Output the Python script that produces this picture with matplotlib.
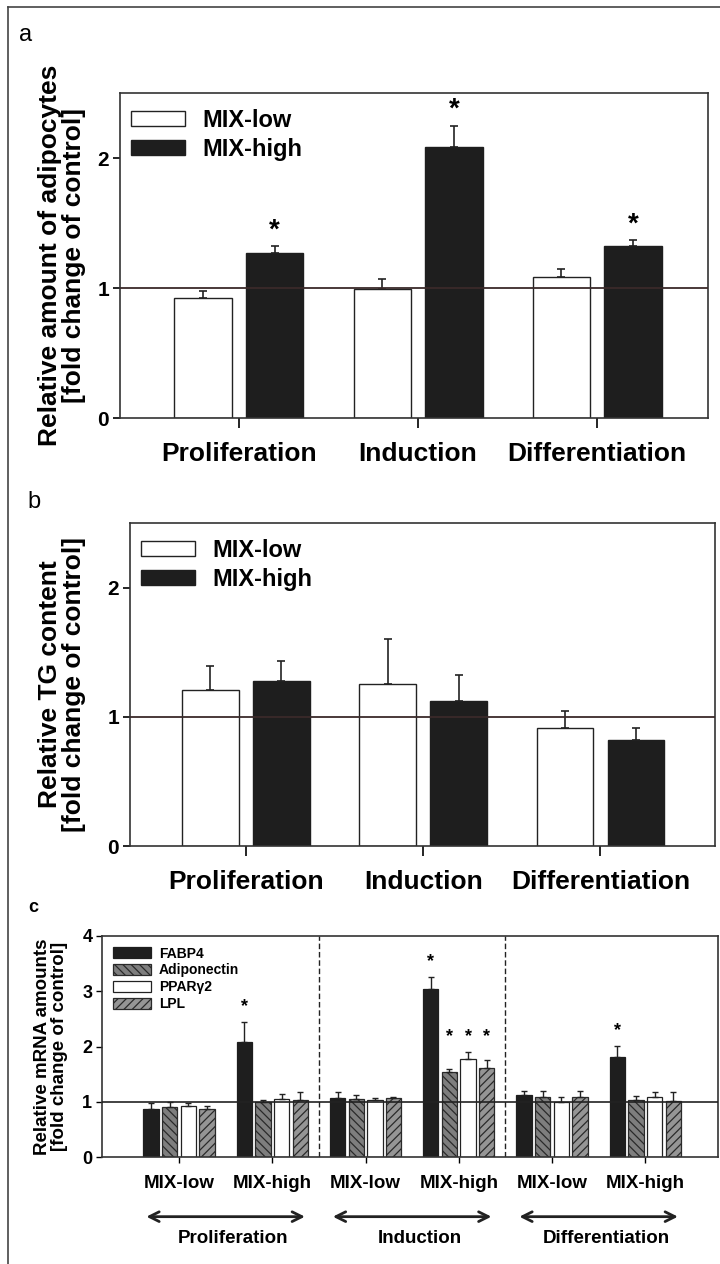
import numpy as np
import matplotlib.pyplot as plt
from matplotlib.lines import Line2D

plt.rcParams['font.family'] = ['Liberation Sans', 'DejaVu Sans']
plt.rcParams['font.weight'] = 'bold'
plt.rcParams['hatch.linewidth'] = 0.9

# --- data ---
phases = ['Proliferation', 'Induction', 'Differentiation']
series_ab = ['MIX-low', 'MIX-high']

# a: relative amount of adipocytes
adipo_low = [0.92, 0.99, 1.085]
adipo_low_err = [0.06, 0.08, 0.06]
adipo_high = [1.27, 2.085, 1.32]
adipo_high_err = [0.055, 0.165, 0.05]
adipo_high_sig = [True, True, True]

# b: relative TG content
tg_low = [1.21, 1.255, 0.915]
tg_low_err = [0.185, 0.35, 0.13]
tg_high = [1.28, 1.12, 0.82]
tg_high_err = [0.15, 0.20, 0.095]

# c: relative mRNA amounts
genes = ['FABP4', 'Adiponectin', 'PPAR\u03b32', 'LPL']
subgroups = ['MIX-low', 'MIX-high'] * 3
fabp4 = [0.87, 2.085, 1.07, 3.04, 1.115, 1.815]
fabp4_err = [0.10, 0.365, 0.105, 0.21, 0.085, 0.195]
adipoq = [0.91, 0.99, 1.055, 1.53, 1.085, 1.03]
adipoq_err = [0.08, 0.05, 0.075, 0.07, 0.115, 0.07]
pparg2 = [0.92, 1.055, 1.04, 1.78, 1.0, 1.08]
pparg2_err = [0.05, 0.085, 0.03, 0.12, 0.09, 0.10]
lpl = [0.86, 1.04, 1.06, 1.615, 1.08, 1.02]
lpl_err = [0.06, 0.14, 0.02, 0.135, 0.12, 0.16]
sig_c = [(1, 0), (3, 0), (3, 1), (3, 2), (3, 3), (5, 0)]  # (subgroup, gene)

W, H = 720, 1264
fig = plt.figure(figsize=(W / 100, H / 100), dpi=100)


def px_axes(left, top, right, bottom):
    return fig.add_axes([left / W, 1 - bottom / H, (right - left) / W, (bottom - top) / H])


def style_box(ax):
    for s in ax.spines.values():
        s.set_linewidth(1.2)
        s.set_color('#333333')


def panel_ab(ax, low, low_err, high, high_err, xlim, sig=None):
    x = np.arange(len(phases))
    ax.bar(x - 0.2, low, 0.32, color='white', edgecolor='#222222', linewidth=1, label=series_ab[0], zorder=2)
    ax.bar(x + 0.2, high, 0.32, color='#1e1e1e', edgecolor='#1e1e1e', linewidth=1, label=series_ab[1], zorder=2)
    ax.errorbar(x - 0.2, low, yerr=[np.zeros(3), low_err], fmt='none', ecolor='#222222',
                elinewidth=1.2, capsize=3.2, capthick=1.2, zorder=3)
    ax.errorbar(x + 0.2, high, yerr=[np.zeros(3), high_err], fmt='none', ecolor='#222222',
                elinewidth=1.2, capsize=3.2, capthick=1.2, zorder=3)
    ax.axhline(1, color='#3a2a2a', linewidth=1.3, zorder=4)
    if sig is not None:
        for i, s in enumerate(sig):
            if s:
                ax.text(x[i] + 0.2, high[i] + high_err[i] + 0.12, '*', ha='center', va='center', fontsize=20)
    ax.set_xlim(*xlim)
    ax.set_ylim(0, 2.5)
    ax.set_yticks([0, 1, 2])
    ax.set_xticks(x, phases, fontsize=19)
    ax.tick_params(axis='x', length=7, width=1.2, pad=10)
    ax.tick_params(axis='y', labelsize=15, length=5, width=1.2, pad=3)
    ax.legend(loc='upper left', bbox_to_anchor=(0.018, 0.95), frameon=False, fontsize=17,
              handlelength=2.3, handleheight=0.6, handletextpad=0.75, labelspacing=0.25,
              borderpad=0, borderaxespad=0)
    style_box(ax)


# panel a
ax_a = px_axes(120, 93, 708, 418)
panel_ab(ax_a, adipo_low, adipo_low_err, adipo_high, adipo_high_err, (-0.663, 2.618), adipo_high_sig)
ax_a.text(-0.098, 0.5, 'Relative amount of adipocytes\n[fold change of control]', transform=ax_a.transAxes,
          rotation=90, ha='center', va='center', fontsize=19, linespacing=1.0)

# panel b
ax_b = px_axes(130, 523, 715, 846)
panel_ab(ax_b, tg_low, tg_low_err, tg_high, tg_high_err, (-0.654, 2.646))
ax_b.text(-0.117, 0.5, 'Relative TG content\n[fold change of control]', transform=ax_b.transAxes,
          rotation=90, ha='center', va='center', fontsize=19, linespacing=1.0)

# panel c
ax_c = px_axes(102, 936, 718, 1157)
xs = np.arange(len(subgroups))
offsets = [-0.3, -0.1, 0.1, 0.3]
vals = [fabp4, adipoq, pparg2, lpl]
errs = [fabp4_err, adipoq_err, pparg2_err, lpl_err]
faces = ['#1e1e1e', '#7e7e7e', 'white', '#959595']
edges = ['#1e1e1e', '#2a2a2a', '#222222', '#2a2a2a']
hatches = [None, '\\\\\\\\', None, '////']
for g in range(4):
    ax_c.bar(xs + offsets[g], vals[g], 0.165, color=faces[g], edgecolor=edges[g], hatch=hatches[g],
             linewidth=0.9, label=genes[g], zorder=2)
    ax_c.errorbar(xs + offsets[g], vals[g], yerr=[np.zeros(len(xs)), errs[g]], fmt='none',
                  ecolor='#222222', elinewidth=1, capsize=2.2, capthick=1, zorder=3)
ax_c.axhline(1, color='#222222', linewidth=1.2, zorder=4)
for xv in [1.5, 3.5]:
    ax_c.axvline(xv, color='#222222', linewidth=1, linestyle=(0, (4, 2)), zorder=1)

tops = {}
for sg, gi in sig_c:
    tops.setdefault((sg, gi == 0), []).append(vals[gi][sg] + errs[gi][sg])
for sg, gi in sig_c:
    y = max(tops[(sg, gi == 0)]) + 0.28
    ax_c.text(xs[sg] + offsets[gi], y, '*', ha='center', va='center', fontsize=13)

ax_c.set_xlim(-0.826, 5.78)
ax_c.set_ylim(0, 4)
ax_c.set_yticks([0, 1, 2, 3, 4])
ax_c.set_xticks(xs, subgroups, fontsize=13.5)
ax_c.tick_params(axis='x', length=4, width=1, pad=9)
ax_c.tick_params(axis='y', labelsize=13, length=4, width=1, pad=3)
ax_c.legend(loc='upper left', bbox_to_anchor=(0.018, 0.952), frameon=False, fontsize=10,
            handlelength=2.7, handleheight=0.86, handletextpad=0.6, labelspacing=0.2,
            borderpad=0, borderaxespad=0)
style_box(ax_c)
ax_c.text(-0.082, 0.5, 'Relative mRNA amounts\n[fold change of control]', transform=ax_c.transAxes,
          rotation=90, ha='center', va='center', fontsize=13.5, linespacing=1.0)

trans = ax_c.get_xaxis_transform()
for p, name in enumerate(phases):
    mid = xs[2 * p] + 0.5
    ax_c.annotate('', xy=(mid - 0.88, -0.27), xytext=(mid + 0.88, -0.27), xycoords=trans, textcoords=trans,
                  arrowprops=dict(arrowstyle='<->,head_length=0.7,head_width=0.35', lw=2, color='#222222'),
                  annotation_clip=False)
    ax_c.text(mid + 0.08, -0.37, name, transform=trans, ha='center', va='center', fontsize=13.5)

# panel letters and outer frame
fig.text(26 / W, 1 - 35 / H, 'a', ha='center', va='center', fontsize=17, fontweight='normal')
fig.text(34 / W, 1 - 502 / H, 'b', ha='center', va='center', fontsize=17, fontweight='normal')
fig.text(33 / W, 1 - 908 / H, 'c', ha='center', va='center', fontsize=13)
fig.add_artist(Line2D([8 / W, 8 / W], [0, 1 - 7 / H], transform=fig.transFigure, color='#444444', lw=1.2))
fig.add_artist(Line2D([8 / W, 1], [1 - 7 / H, 1 - 7 / H], transform=fig.transFigure, color='#444444', lw=1.2))

fig.savefig('out.png', dpi=100)
